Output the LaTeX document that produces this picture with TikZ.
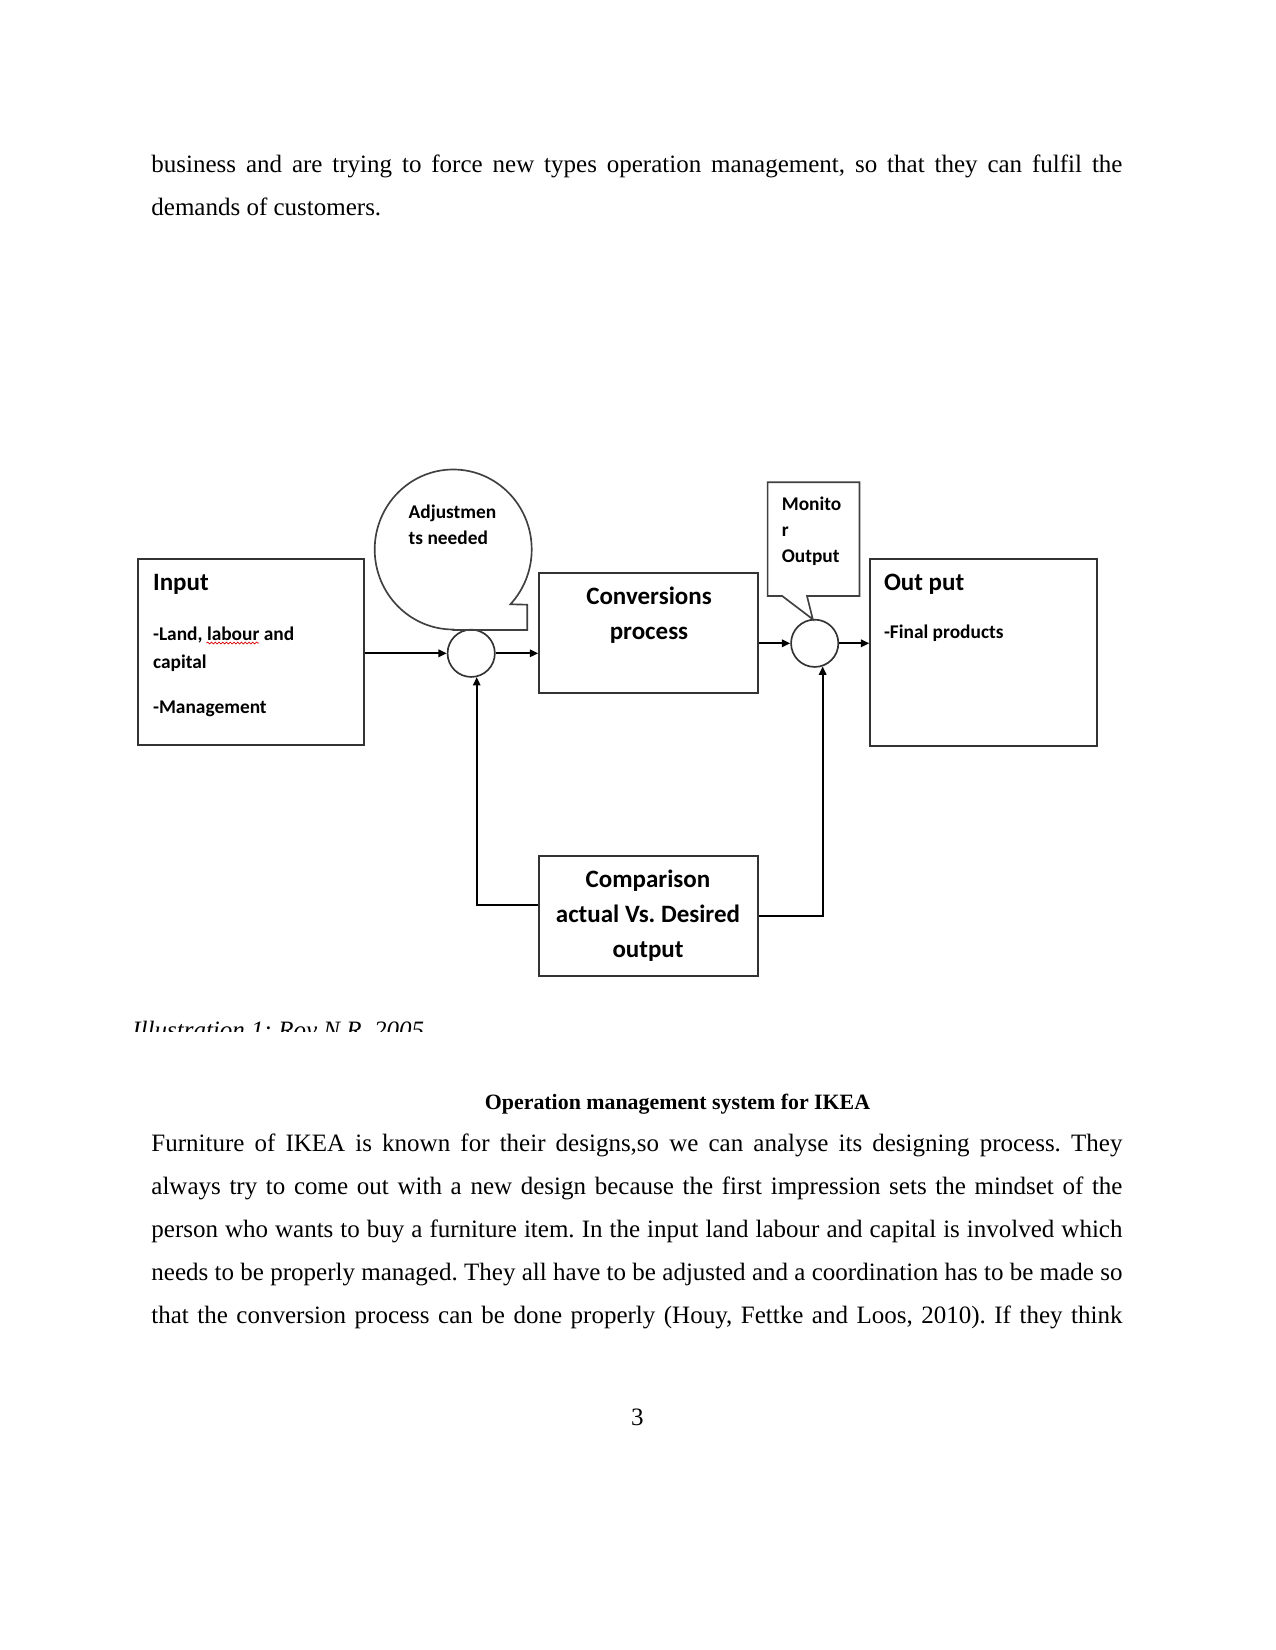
\documentclass[tikz,border=0pt]{standalone}
\usepackage{fontspec}
\setmainfont{Liberation Serif}
\newfontfamily\carlfont{Carlito}
\usetikzlibrary{arrows.meta,decorations.pathmorphing}
\frenchspacing
\def\px{0.48pt}
\tikzset{
  box/.style={draw=black!80, line width=0.9pt, rectangle, inner sep=0pt},
  junc/.style={draw=black!80, line width=0.8pt, circle, inner sep=0pt, minimum size=22.7pt},
  arr/.style={draw=black, line width=0.8pt, -{Triangle[length=4pt,width=3.6pt]}},
  callout/.style={draw=black!75, line width=0.8pt},
  lbl/.style={font=\carlfont\bfseries\fontsize{9.3}{11}\selectfont, inner sep=0pt, anchor=base west},
  hdr/.style={font=\carlfont\bfseries\fontsize{12}{14}\selectfont, inner sep=0pt},
  body/.style={font=\fontsize{12}{14}\selectfont, inner sep=0pt, anchor=base west},
  spell/.style={draw=red!85!black, line width=0.35pt, decorate, decoration={snake, amplitude=0.45pt, segment length=1.8pt}}
}
\begin{document}
\frenchspacing
\begin{tikzpicture}[x=0.48pt,y=-0.48pt]
\useasboundingbox (0,0) rectangle (1275,1650);
\fill[white] (0,0) rectangle (1275,1650);

% body text above
\node[body] (l1) at (151,172.7) {\makebox[466.1pt][s]{business and are trying to force new types operation management, so that they can fulfil the}};
\node[body] (l2) at (151,215.3) {demands of customers.};

% boxes
\node[box, minimum width=226.6*\px, minimum height=186*\px] (input) at (251,652.3) {};
\node[box, minimum width=218.9*\px, minimum height=119.4*\px] (conv) at (648.55,633) {};
\node[box, minimum width=226.5*\px, minimum height=186.4*\px] (out) at (983.45,652.5) {};
\node[box, minimum width=218.9*\px, minimum height=119.7*\px] (comp) at (648.35,915.85) {};

% junctions
\node[junc] (j1) at (471.2,653.3) {};
\node[junc] (j2) at (814.7,643.3) {};

% callouts
\draw[callout] (453.2,629.5) arc[start angle=270, end angle=-43.2, x radius=37.68pt, y radius=38.4pt]
  -- (527.3,604.7) -- (527.3,630) -- (453.2,630) -- cycle;
\coordinate (mtip) at (812.8,619.3);
\draw[callout] (767.6,482.3) -- (859.5,482.3) -- (859.5,596) -- (807,596) -- (mtip) -- (782.2,596) -- (767.6,596) -- cycle;

% texts in diagram
\node[hdr, anchor=base west] (tin) at (152.7,590.5) {Input};
\node[lbl] (tland) at (152.7,640) {-Land, labour and};
\draw[spell] (206.6,643) -- (259,643);
\node[lbl] (tcap) at (152.7,668) {capital};
\node[lbl] (tman) at (152.7,713.5) {-Management};

\node[lbl] (tadj1) at (408.3,518.7) {Adjustmen};
\node[lbl] (tadj2) at (408.3,544) {ts needed};

\node[hdr, anchor=base] (tconv1) at (649,604) {Conversions};
\node[hdr, anchor=base] (tconv2) at (649,639) {process};

\node[lbl] (tmon1) at (781.4,510) {Monito};
\node[lbl] (tmon2) at (781.4,536.7) {r};
\node[lbl] (tmon3) at (781.4,562.7) {Output};

\node[hdr, anchor=base west] (tout) at (883.6,590.7) {Out put};
\node[lbl] (tfin) at (883.6,638.5) {-Final products};

\node[hdr, anchor=base] (tcomp1) at (648,887.3) {Comparison};
\node[hdr, anchor=base] (tcomp2) at (648,922.8) {actual Vs. Desired};
\node[hdr, anchor=base] (tcomp3) at (648,957.5) {output};

% connectors
\draw[arr] (input.east |- j1) -- (j1.west);
\draw[arr] (j1.east) -- (j1.east -| conv.west);
\draw[arr] (conv.east |- j2) -- (j2.west);
\draw[arr] (j2.east) -- (j2.east -| out.west);
\draw[arr] ([yshift=5.1pt]comp.west) -| (j1.-77);
\draw[arr] (comp.east) -| (j2.-71);

% clipped caption
\begin{scope}
\clip (0,1000) rectangle (1275,1031.5);
\node[body] (caption) at (132,1038.2) {\itshape Illustration 1: Roy N.R, 2005};
\end{scope}

% heading and paragraph
\node[font=\bfseries\fontsize{10.5}{12.5}\selectfont, inner sep=0pt, anchor=base] (head) at (677.5,1109.5) {Operation management system for IKEA};
\node[body] (p1) at (151,1151.7) {\makebox[466.1pt][s]{Furniture of IKEA is known for their designs,so we can analyse its designing process. They}};
\node[body] (p2) at (151,1194.6) {\makebox[466.1pt][s]{always try to come out with a new design because the first impression sets the mindset of the}};
\node[body] (p3) at (151,1237.5) {\makebox[466.1pt][s]{person who wants to buy a furniture item. In the input land labour and capital is involved which}};
\node[body] (p4) at (151,1280.4) {\makebox[466.1pt][s]{needs to be properly managed. They all have to be adjusted and a coordination has to be made so}};
\node[body] (p5) at (151,1323.3) {\makebox[466.1pt][s]{that the conversion process can be done properly (Houy, Fettke and Loos, 2010). If they think}};

\node[body, anchor=base] (pg) at (637.3,1425) {3};
\end{tikzpicture}
\end{document}
